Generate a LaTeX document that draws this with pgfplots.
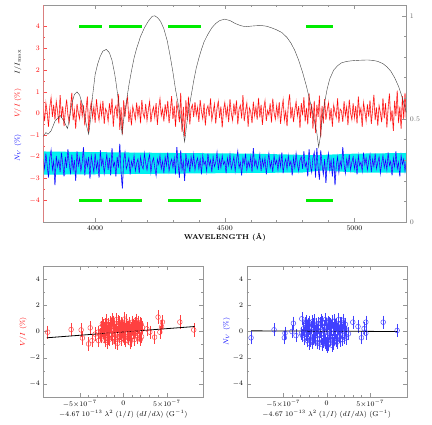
\documentclass[border=0pt]{standalone}
\usepackage{pgfplots}
\pgfplotsset{compat=1.18}
\usepackage{pgfplotstable}
\definecolor{pgreen}{RGB}{0,235,0}
\definecolor{pcyan}{RGB}{0,240,240}
\definecolor{framegray}{RGB}{150,150,150}

\pgfplotsset{
  pg/.style={scale only axis, tick align=inside, axis line style={framegray},
    every tick/.style={framegray, line width=0.4pt},
    tick label style={font=\scriptsize},
    major tick length=4pt, minor tick length=2pt},
}

% lambda, V/I (%), N_V (%)
\pgfplotstableread{
lam V N
3800 0.21 -2.10
3805 -0.35 -2.55
3810 0.48 -1.85
3815 0.05 -2.40
3820 -0.62 -2.95
3825 0.30 -2.05
3830 0.72 -1.70
3835 -0.15 -2.60
3840 0.40 -2.20
3845 -0.28 -3.30
3850 0.55 -1.95
3855 0.10 -2.45
3860 -0.45 -2.15
3865 0.85 -2.70
3870 -0.20 -1.80
3875 0.33 -2.35
3880 -0.58 -2.90
3885 0.12 -2.00
3890 0.64 -2.50
3895 -0.08 -1.65
3900 -0.40 -2.30
3905 0.26 -2.80
3910 0.95 -1.90
3915 -0.30 -2.60
3920 0.15 -2.15
3925 -0.70 -3.10
3930 0.44 -1.75
3935 0.02 -2.40
3940 -0.25 -2.05
3945 0.60 -2.65
3950 -0.12 -2.25
3955 0.38 -1.55
3960 -0.55 -2.85
3965 0.20 -2.10
3970 0.78 -2.45
3975 -0.85 -2.00
3980 0.10 -3.00
3985 0.52 -1.95
3990 -0.18 -2.35
3995 0.30 -2.70
4000 -0.42 -1.85
4005 0.66 -2.55
4010 0.05 -2.20
4015 -0.30 -2.95
4020 0.40 -1.70
4025 -0.10 -2.40
4030 0.58 -2.10
4035 -0.48 -2.75
4040 0.22 -2.30
4045 0.08 -1.90
4050 -0.35 -2.60
4055 0.47 -2.05
4060 -0.05 -2.85
4065 0.70 -1.60
4070 -0.60 -2.45
4075 0.18 -2.25
4080 0.35 -2.90
4085 -0.22 -2.00
4090 0.90 -2.50
4095 -0.75 -1.40
4100 0.28 -2.70
4105 -0.95 -3.45
4110 0.60 -2.15
4115 -0.15 -1.80
4120 0.42 -2.55
4125 0.75 -2.35
4130 -0.38 -2.05
4135 0.12 -2.80
4140 -0.55 -2.20
4145 0.32 -2.45
4150 0.05 -1.95
4155 -0.28 -2.65
4160 0.50 -2.30
4165 -0.12 -2.10
4170 0.36 -2.75
4175 -0.45 -2.00
4180 0.62 -2.40
4185 0.00 -2.55
4190 -0.20 -1.85
4195 0.44 -2.30
4200 -0.32 -2.60
4205 0.16 -2.15
4210 0.55 -1.90
4215 -0.40 -2.70
4220 0.08 -2.25
4225 0.30 -2.05
4230 -0.18 -2.50
4235 0.48 -2.85
4240 -0.52 -2.10
4245 0.25 -2.35
4250 0.68 -1.95
4255 -0.10 -2.55
4260 0.20 -2.20
4265 -0.36 -2.75
4270 0.42 -2.00
4275 -0.06 -2.40
4280 0.58 -1.80
4285 -0.44 -2.65
4290 0.14 -2.30
4295 0.80 -2.10
4300 -0.25 -2.50
4305 0.35 -2.05
4310 -0.62 -2.80
4315 0.48 -1.55
4320 0.12 -2.35
4325 -0.40 -2.95
4330 0.95 -1.70
4335 -0.85 -2.60
4340 0.30 -2.20
4345 -1.05 -3.10
4350 0.60 -1.85
4355 -0.30 -2.45
4360 0.78 -2.15
4365 -0.50 -2.70
4370 0.22 -2.00
4375 0.40 -2.40
4380 -0.16 -1.90
4385 0.52 -2.60
4390 -0.08 -2.25
4395 0.28 -2.05
4400 -0.38 -2.55
4405 0.62 -2.10
4410 0.10 -2.80
4415 -0.24 -1.95
4420 0.46 -2.35
4425 -0.55 -2.20
4430 0.18 -2.65
4435 0.35 -1.85
4440 -0.12 -2.40
4445 0.70 -2.15
4450 -0.30 -2.70
4455 0.06 -2.00
4460 0.44 -2.45
4465 -0.46 -2.25
4470 0.24 -1.80
4475 0.56 -2.60
4480 -0.20 -2.10
4485 0.32 -2.50
4490 -0.64 -1.95
4495 0.15 -2.35
4500 0.50 -2.20
4505 -0.14 -2.75
4510 0.28 -2.05
4515 -0.40 -2.40
4520 0.66 -1.90
4525 0.02 -2.55
4530 -0.32 -2.30
4535 0.45 -2.00
4540 -0.08 -2.65
4545 0.60 -2.15
4550 -0.50 -1.75
4555 0.20 -2.50
4560 0.38 -2.25
4565 -0.22 -2.85
4570 0.85 -2.05
4575 -0.35 -2.35
4580 0.12 -1.85
4585 0.48 -2.60
4590 -0.60 -2.20
4595 0.26 -2.45
4600 0.08 -2.00
4605 -0.44 -2.70
4610 0.54 -1.60
4615 -0.10 -2.40
4620 0.30 -2.15
4625 -0.28 -2.55
4630 0.72 -2.30
4635 -0.18 -1.90
4640 0.40 -2.65
4645 -0.52 -2.10
4650 0.22 -2.45
4655 0.58 -2.05
4660 -0.34 -2.80
4665 0.14 -2.25
4670 -0.06 -1.85
4675 0.46 -2.50
4680 -0.42 -2.20
4685 0.68 -2.70
4690 0.04 -1.95
4695 -0.26 -2.35
4700 0.36 -2.15
4705 -0.16 -2.60
4710 0.52 -2.00
4715 -0.48 -2.45
4720 0.20 -1.80
4725 0.62 -2.75
4730 -0.30 -2.30
4735 0.10 -2.10
4740 -0.58 -2.55
4745 0.42 -1.95
4750 0.88 -2.40
4755 -0.22 -2.20
4760 0.30 -2.85
4765 -0.40 -2.05
4770 0.16 -2.50
4775 0.54 -1.85
4780 -0.12 -2.35
4785 0.34 -2.65
4790 -0.66 -2.15
4795 0.48 -2.00
4800 -0.08 -2.55
4805 0.74 -1.75
4810 -0.36 -2.45
4815 0.26 -2.25
4820 -0.50 -2.90
4825 0.92 -1.65
4830 -0.20 -2.40
4835 0.44 -2.70
4840 -0.70 -2.05
4845 0.58 -1.80
4850 -0.90 -2.95
4855 0.40 -1.60
4860 -0.15 -2.50
4865 0.82 -3.05
4870 -1.10 -1.70
4875 0.35 -2.35
4880 -0.45 -2.80
4885 0.66 -2.10
4890 -0.28 -3.20
4895 0.18 -2.25
4900 0.50 -1.85
4905 -0.32 -2.60
4910 0.24 -2.15
4915 -0.60 -2.90
4920 0.38 -2.05
4925 0.06 -3.30
4930 -0.18 -2.40
4935 0.70 -2.00
4940 -0.42 -2.70
4945 0.20 -2.20
4950 0.12 -2.50
4955 -0.38 -1.55
4960 0.56 -2.35
4965 -0.10 -2.75
4970 0.30 -2.10
4975 -0.54 -2.45
4980 0.64 -1.90
4985 0.02 -2.60
4990 -0.28 -2.25
4995 0.46 -2.00
5000 -0.20 -2.55
5005 0.34 -2.15
5010 -0.46 -2.80
5015 0.78 -1.95
5020 -0.06 -2.40
5025 0.24 -2.25
5030 -0.62 -2.65
5035 0.50 -1.80
5040 0.10 -2.35
5045 -0.34 -2.05
5050 0.42 -2.60
5055 -0.14 -2.20
5060 0.60 -1.90
5065 -0.48 -2.70
5070 0.18 -2.10
5075 0.86 -2.45
5080 -0.30 -1.85
5085 0.28 -2.55
5090 -0.56 -2.25
5095 0.36 -2.00
5100 0.04 -2.75
5105 -0.40 -2.30
5110 0.70 -1.95
5115 -0.22 -2.50
5120 0.48 -2.15
5125 -0.64 -2.60
5130 0.26 -1.80
5135 0.92 -2.40
5140 -0.36 -2.20
5145 0.14 -2.85
5150 -0.80 -2.05
5155 0.58 -2.45
5160 -0.12 -1.75
5165 1.05 -2.55
5170 -0.44 -2.25
5175 0.32 -2.90
5180 -0.70 -1.95
5185 0.80 -2.35
5190 -0.25 -2.10
5195 0.95 -2.65
5200 -0.30 -2.20
}\spec

% lambda, I/Imax
\pgfplotstableread{
lam I
3800 0.415
3810 0.434
3818 0.426
3830 0.442
3845 0.489
3865 0.517
3880 0.489
3893 0.453
3900 0.495
3910 0.574
3920 0.619
3930 0.631
3940 0.616
3950 0.574
3960 0.510
3968 0.460
3975 0.426
3982 0.495
3990 0.611
4000 0.716
4010 0.768
4020 0.805
4030 0.829
4043 0.837
4055 0.821
4065 0.784
4075 0.721
4082 0.663
4090 0.584
4097 0.505
4104 0.426
4110 0.495
4120 0.579
4130 0.663
4140 0.732
4150 0.795
4160 0.842
4175 0.900
4190 0.942
4205 0.974
4220 0.998
4230 1.000
4240 0.992
4252 0.974
4265 0.937
4278 0.879
4290 0.800
4300 0.726
4310 0.642
4320 0.574
4330 0.505
4338 0.453
4345 0.389
4352 0.463
4360 0.537
4370 0.611
4380 0.684
4390 0.747
4400 0.795
4410 0.837
4420 0.874
4435 0.911
4450 0.942
4465 0.963
4480 0.977
4500 0.984
4520 0.977
4540 0.963
4560 0.953
4580 0.947
4600 0.950
4620 0.952
4640 0.953
4660 0.950
4680 0.942
4700 0.932
4720 0.919
4740 0.895
4755 0.868
4770 0.832
4785 0.784
4800 0.726
4815 0.658
4830 0.579
4845 0.495
4855 0.432
4862 0.363
4868 0.411
4875 0.495
4885 0.579
4895 0.647
4905 0.695
4920 0.737
4935 0.758
4950 0.772
4970 0.779
4990 0.782
5010 0.784
5030 0.785
5050 0.786
5070 0.784
5090 0.779
5110 0.768
5125 0.753
5140 0.732
5155 0.700
5170 0.658
5180 0.621
5190 0.579
5200 0.532
}\inten

% derivative term, V/I (%)
\pgfplotstableread{
x y
-8.7e-7 -0.05
-6.0e-7 0.15
-4.85e-7 0.12
-4.7e-7 -0.50
-4.0e-7 -0.95
-3.8e-7 0.28
-3.6e-7 -0.70
-3.25e-7 -0.20
-2.9e-7 -0.05
-2.85e-7 -0.70
2.7e-7 0.20
3.05e-7 -0.05
3.6e-7 -0.43
4.0e-7 1.10
4.4e-7 0.35
4.5e-7 0.72
4.2e-7 -0.05
6.5e-7 0.72
8.1e-7 0.12
-2.6e-7 0.3
-2.5e-7 -0.4
-2.4e-7 0.6
-2.3e-7 -0.1
-2.2e-7 0.2
-2.1e-7 -0.7
-2.0e-7 0.8
-1.9e-7 0.0
-1.8e-7 -0.3
-1.7e-7 0.5
-1.6e-7 -0.6
-1.5e-7 0.4
-1.4e-7 0.1
-1.3e-7 -0.5
-1.2e-7 0.7
-1.1e-7 -0.2
-1.0e-7 0.3
-0.9e-7 -0.8
-0.8e-7 0.9
-0.7e-7 -0.1
-0.6e-7 0.5
-0.5e-7 -0.4
-0.4e-7 0.2
-0.3e-7 -0.6
-0.2e-7 0.6
-0.1e-7 0.0
0.0 -0.3
0.1e-7 0.4
0.2e-7 -0.7
0.3e-7 0.8
0.4e-7 -0.2
0.5e-7 0.3
0.6e-7 -0.5
0.7e-7 0.6
0.8e-7 0.1
0.9e-7 -0.4
1.0e-7 0.7
1.1e-7 -0.1
1.2e-7 0.4
1.3e-7 -0.6
1.4e-7 0.2
1.5e-7 0.5
1.6e-7 -0.3
1.7e-7 0.3
1.8e-7 -0.2
1.9e-7 0.6
2.0e-7 0.0
2.1e-7 -0.4
2.2e-7 0.3
-2.55e-7 -0.1
-2.35e-7 0.45
-2.15e-7 -0.35
-1.95e-7 0.15
-1.75e-7 -0.55
-1.55e-7 0.65
-1.35e-7 -0.25
-1.15e-7 0.35
-0.95e-7 0.05
-0.75e-7 -0.45
-0.55e-7 0.75
-0.35e-7 -0.15
-0.15e-7 0.45
0.05e-7 -0.55
0.25e-7 0.15
0.45e-7 -0.05
0.65e-7 0.55
0.85e-7 -0.65
1.05e-7 0.25
1.25e-7 -0.15
1.45e-7 0.85
1.65e-7 -0.45
1.85e-7 0.25
2.05e-7 0.55
-1.85e-7 -0.85
-1.25e-7 0.9
-0.65e-7 -0.9
0.15e-7 0.95
0.75e-7 -0.85
1.35e-7 0.6
-2.45e-7 0.1
-2.05e-7 0.5
-1.45e-7 -0.2
-0.85e-7 0.4
-0.25e-7 -0.35
0.35e-7 0.5
0.95e-7 0.2
1.55e-7 0.0
1.95e-7 -0.6
-1.65e-7 0.25
-1.05e-7 -0.45
-0.45e-7 0.65
0.55e-7 0.3
1.15e-7 0.45
1.75e-7 0.7
-0.05e-7 0.25
0.65e-7 -0.25
-1.4e-7 0.55
1.6e-7 0.3
-2.7e-7 -0.25
}\vscat

% derivative term, N_V (%)
\pgfplotstableread{
x y
-8.7e-7 -0.48
-6.05e-7 0.13
-4.87e-7 -0.48
-4.8e-7 -0.13
-4.0e-7 0.0
-3.83e-7 0.63
-3.53e-7 -0.31
-2.87e-7 0.97
-2.9e-7 -0.13
2.5e-7 -0.18
3.0e-7 0.71
3.6e-7 0.38
4.0e-7 -0.48
4.3e-7 0.22
4.5e-7 0.71
4.5e-7 -0.13
6.5e-7 0.71
8.1e-7 0.08
-2.7e-7 0.2
-2.6e-7 -0.5
-2.5e-7 0.6
-2.4e-7 -0.2
-2.3e-7 0.4
-2.2e-7 -0.7
-2.1e-7 0.1
-2.0e-7 0.7
-1.9e-7 -0.4
-1.8e-7 0.3
-1.7e-7 -0.8
-1.6e-7 0.5
-1.5e-7 -0.1
-1.4e-7 0.8
-1.3e-7 -0.6
-1.2e-7 0.2
-1.1e-7 -0.3
-1.0e-7 0.6
-0.9e-7 -0.9
-0.8e-7 0.4
-0.7e-7 0.0
-0.6e-7 -0.5
-0.5e-7 0.7
-0.4e-7 -0.2
-0.3e-7 0.3
-0.2e-7 -0.8
-0.1e-7 0.5
0.0 -0.4
0.1e-7 0.1
0.2e-7 -1.0
0.3e-7 0.6
0.4e-7 -0.3
0.5e-7 0.4
0.6e-7 -0.7
0.7e-7 0.2
0.8e-7 -0.5
0.9e-7 0.8
1.0e-7 -0.1
1.1e-7 0.5
1.2e-7 -0.8
1.3e-7 0.3
1.4e-7 -0.4
1.5e-7 0.6
1.6e-7 -0.2
1.7e-7 0.4
1.8e-7 -0.6
1.9e-7 0.7
2.0e-7 -0.3
2.1e-7 0.2
2.2e-7 -0.5
-2.65e-7 -0.15
-2.45e-7 0.45
-2.25e-7 -0.45
-2.05e-7 0.25
-1.85e-7 -0.65
-1.65e-7 0.75
-1.45e-7 -0.35
-1.25e-7 0.55
-1.05e-7 0.05
-0.85e-7 -0.55
-0.65e-7 0.85
-0.45e-7 -0.75
-0.25e-7 0.35
-0.05e-7 -0.95
0.15e-7 0.65
0.35e-7 -0.6
0.55e-7 0.15
0.75e-7 -0.9
0.95e-7 0.45
1.15e-7 -0.55
1.35e-7 0.9
1.55e-7 -0.65
1.75e-7 0.1
1.95e-7 -0.45
2.15e-7 0.55
-2.0e-7 -0.9
-1.35e-7 0.0
-0.75e-7 0.6
0.25e-7 -0.15
0.85e-7 0.35
1.45e-7 -0.05
2.05e-7 0.3
-2.35e-7 0.75
-1.55e-7 -0.55
-0.95e-7 0.3
-0.35e-7 -0.45
0.45e-7 0.5
1.05e-7 -0.7
1.65e-7 0.6
0.05e-7 -1.1
0.6e-7 -1.05
-0.15e-7 0.9
1.25e-7 0.15
-1.15e-7 -0.85
2.25e-7 -0.1
0.65e-7 0.75
-0.55e-7 -1.0
1.85e-7 0.85
-2.15e-7 0.5
-2.8e-7 -0.3
}\nscat

\begin{document}
\begin{tikzpicture}
\path[use as bounding box] (0,0) rectangle (432bp,425bp);

% ---------- top panel, left scale ----------
\begin{axis}[pg, at={(43.3bp,203bp)}, anchor=south west,
  width=363bp, height=217bp,
  xmin=3800, xmax=5200, ymin=-5, ymax=5,
  xtick={4000,4500,5000}, minor x tick num=4, xtick pos=both,
  ytick={-4,...,4}, minor y tick num=1, ytick pos=left,
  y tick style={red!70},
  yticklabel style={text=red},
  xticklabel style={/pgf/number format/1000 sep={}},
  xlabel={\bfseries WAVELENGTH (\AA)}, xlabel style={font=\scriptsize, yshift=3pt},
]
\addplot[fill=pcyan, draw=none] coordinates {
 (3800,-1.75) (4000,-1.78) (4300,-1.82) (4600,-1.85) (4850,-1.92) (5000,-1.85) (5200,-1.82)
 (5200,-2.72) (5000,-2.72) (4880,-2.62) (4800,-2.72) (4500,-2.75) (4200,-2.78) (3800,-2.82)};
\addplot[blue!60, line width=0.8pt] table[x=lam, y=N] {\spec};
\addplot[blue, line width=0.35pt] table[x=lam, y=N] {\spec};
\addplot[red!40, line width=0.9pt] table[x=lam, y=V] {\spec};
\addplot[red, line width=0.35pt] table[x=lam, y=V] {\spec};
\addplot[pgreen, line width=2.6pt] coordinates {(3938,4) (4027,4)};
\addplot[pgreen, line width=2.6pt] coordinates {(4055,4) (4181,4)};
\addplot[pgreen, line width=2.6pt] coordinates {(4282,4) (4407,4)};
\addplot[pgreen, line width=2.6pt] coordinates {(4814,4) (4919,4)};
\addplot[pgreen, line width=2.6pt] coordinates {(3938,-4) (4027,-4)};
\addplot[pgreen, line width=2.6pt] coordinates {(4055,-4) (4181,-4)};
\addplot[pgreen, line width=2.6pt] coordinates {(4282,-4) (4407,-4)};
\addplot[pgreen, line width=2.6pt] coordinates {(4814,-4) (4919,-4)};
\draw[red!55, line width=0.9pt] (rel axis cs:0,0) -- (rel axis cs:0,1);
\end{axis}

% ---------- top panel, right scale ----------
\begin{axis}[pg, at={(43.3bp,203bp)}, anchor=south west,
  width=363bp, height=217bp,
  xmin=3800, xmax=5200, ymin=0, ymax=1.0526,
  hide x axis, axis y line*=right,
  ytick={0,0.5,1}, minor y tick num=4,
  yticklabel style={text=black!60},
]
\addplot[black!75, line width=0.4pt] table[x=lam, y=I] {\inten};
\end{axis}

\node[rotate=90, font=\scriptsize] at (18bp,363bp) {$I/I_{\max}$};
\node[rotate=90, font=\scriptsize, text=red] at (18bp,322bp) {$V/I$ (\%)};
\node[rotate=90, font=\scriptsize, text=blue] at (18bp,277bp) {$N_V$ (\%)};

% ---------- bottom left ----------
\begin{axis}[pg, at={(43.3bp,28bp)}, anchor=south west,
  width=160bp, height=131bp,
  xmin=-9.2e-7, xmax=9.2e-7, ymin=-5, ymax=5,
  scaled x ticks=false,
  xtick={-5e-7,0,5e-7}, xticklabels={$-5{\times}10^{-7}$, $0$, $5{\times}10^{-7}$},
  minor x tick num=4, xtick pos=both,
  ytick={-4,-2,...,4}, minor y tick num=1, ytick pos=both,
  ylabel={$V/I$ (\%)}, ylabel style={font=\scriptsize, text=red, yshift=-4pt},
  xlabel={$-4.67\;10^{-13}\;\lambda^2\;(1/I)\;(dI/d\lambda)\;(\mathrm{G}^{-1})$},
  xlabel style={font=\scriptsize, yshift=4pt},
]
\addplot[only marks, red!75, mark=o, mark size=2.4pt,
  mark options={solid, line width=0.45pt, fill=none, draw=red!75},
  error bars/.cd, y dir=both, y fixed=0.4,
  error bar style={line width=0.3pt, red!75},
  error mark options={mark size=1.4pt, line width=0.3pt, red!75}]
  table[x=x, y=y] {\vscat};
\addplot[black, line width=0.8pt] coordinates {(-8.8e-7,-0.48) (8.2e-7,0.38)};
\end{axis}

% ---------- bottom right ----------
\begin{axis}[pg, at={(246.7bp,28bp)}, anchor=south west,
  width=160bp, height=131bp,
  xmin=-9.2e-7, xmax=9.2e-7, ymin=-5, ymax=5,
  scaled x ticks=false,
  xtick={-5e-7,0,5e-7}, xticklabels={$-5{\times}10^{-7}$, $0$, $5{\times}10^{-7}$},
  minor x tick num=4, xtick pos=both,
  ytick={-4,-2,...,4}, minor y tick num=1, ytick pos=both,
  ylabel={$N_V$ (\%)}, ylabel style={font=\scriptsize, text=blue, yshift=-4pt},
  xlabel={$-4.67\;10^{-13}\;\lambda^2\;(1/I)\;(dI/d\lambda)\;(\mathrm{G}^{-1})$},
  xlabel style={font=\scriptsize, yshift=4pt},
]
\addplot[only marks, blue!75, mark=o, mark size=2.4pt,
  mark options={solid, line width=0.45pt, fill=none, draw=blue!75},
  error bars/.cd, y dir=both, y fixed=0.4,
  error bar style={line width=0.3pt, blue!75},
  error mark options={mark size=1.4pt, line width=0.3pt, blue!75}]
  table[x=x, y=y] {\nscat};
\addplot[black, line width=0.8pt] coordinates {(-8.7e-7,0.05) (8.1e-7,0.0)};
\end{axis}
\end{tikzpicture}
\end{document}
